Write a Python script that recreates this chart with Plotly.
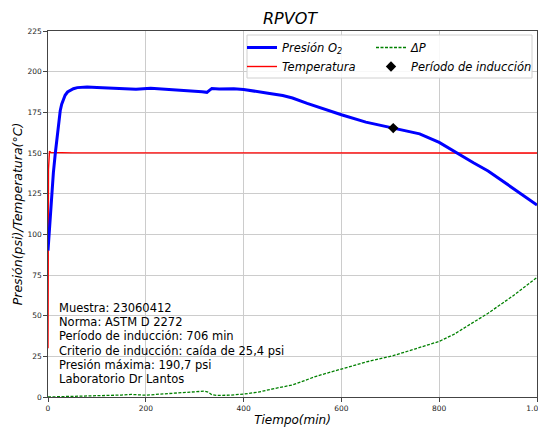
import plotly.graph_objects as go

# ---- data ----
t_pres = [0, 3, 7, 11, 15, 19, 22, 25, 28, 32, 35, 40, 45, 52, 60, 70, 80, 100, 130, 150, 180,
          210, 230, 250, 280, 300, 315, 325, 330, 335, 350, 380, 400, 420, 450, 480, 500, 530,
          560, 600, 650, 690, 706, 730, 760, 800, 836, 870, 900, 950, 1000]
presion = [90, 105, 122, 138, 150, 162, 170, 176, 180, 183.5, 185.5, 187.5, 188.5, 189.5, 190.2,
           190.5, 190.6, 190.3, 190.0, 189.5, 189.2, 189.8, 189.5, 189.0, 188.5, 188.0, 187.6,
           187.3, 188.5, 189.6, 189.4, 189.5, 189.0, 188.3, 186.8, 185.3, 183.8, 180.5, 177.5,
           173.5, 169.0, 166.5, 165.3, 164.0, 161.8, 156.5, 150.0, 144.0, 139.0, 128.5, 118.0]

t_temp = [0, 1, 3, 6, 50, 200, 400, 600, 800, 1000]
temperatura = [30, 140, 151, 150.3, 150.1, 150.1, 150, 150, 150, 150]

t_dp = [0, 50, 100, 150, 170, 200, 230, 260, 300, 320, 328, 335, 345, 370, 400, 430, 460, 500,
        550, 600, 650, 700, 706, 750, 800, 830, 860, 900, 950, 1000]
delta_p = [0, 0.3, 0.5, 1.2, 1.6, 1.1, 1.8, 2.4, 3.0, 3.6, 3.0, 1.4, 1.0, 1.1, 1.8, 3.0, 5.0, 7.4,
           12.9, 17.3, 21.5, 25.0, 25.4, 29.5, 34.2, 38.5, 44.0, 51.5, 62.0, 73.5]

t_ind = [706]
p_ind = [165.3]

x_ticks = [0, 200, 400, 600, 800, 1000]
x_ticklabels = ["0", "200", "400", "600", "800", "1.000"]
y_ticks = [0, 25, 50, 75, 100, 125, 150, 175, 200, 225]

info_lines = ["Muestra: 23060412", "Norma: ASTM D 2272", "Período de inducción: 706 min",
              "Criterio de inducción: caída de 25,4 psi", "Presión máxima: 190,7 psi",
              "Laboratorio Dr Lantos"]

FONT = "DejaVu Sans"
# page body has an 8px default margin: figure sits at (8, 8) in the window
OFF = 8
W, H = 546 - OFF, 427 - OFF
# plot area in window pixels
L, R, T, B = 48, 537, 31, 397
PW, PH = R - L, B - T


def px(xw):
    return (xw - L) / PW


def py(yw):
    return (B - yw) / PH


legfont = dict(size=11.5, style="italic", family=FONT, color="black")

fig = go.Figure()
fig.add_trace(go.Scatter(x=t_temp, y=temperatura, mode="lines", name="Temperatura",
                         line=dict(color="#ff0000", width=1.4), legend="legend", legendrank=2))
fig.add_trace(go.Scatter(x=t_dp, y=delta_p, mode="lines", name="ΔP",
                         line=dict(color="#008000", width=1.3, dash="3px,1.5px"),
                         legend="legend2", legendrank=1))
fig.add_trace(go.Scatter(x=t_pres, y=presion, mode="lines", name="Presión O<sub>2</sub>",
                         line=dict(color="#0000ff", width=3), legend="legend", legendrank=1))
fig.add_trace(go.Scatter(x=t_ind, y=p_ind, mode="markers", name="Período de inducción",
                         marker=dict(color="black", symbol="diamond", size=8),
                         legend="legend2", legendrank=2))

fig.update_layout(
    width=W, height=H,
    margin=dict(l=L - OFF, r=546 - R, t=T - OFF, b=427 - B, autoexpand=False),
    paper_bgcolor="white", plot_bgcolor="white",
    font=dict(family=FONT, color="#222"),
    title=dict(text="RPVOT", x=(290 - OFF) / W, xanchor="center", y=1 - (18 - OFF) / H,
               yanchor="middle",
               font=dict(size=16, style="italic", family=FONT, color="black")),
    legend=dict(x=px(242), xanchor="left", y=py(33), yanchor="top", traceorder="normal",
                bgcolor="rgba(0,0,0,0)", borderwidth=0, font=legfont, itemwidth=30,
                tracegroupgap=0),
    legend2=dict(x=px(371), xanchor="left", y=py(33), yanchor="top", traceorder="normal",
                 bgcolor="rgba(0,0,0,0)", borderwidth=0, font=legfont, itemwidth=30,
                 tracegroupgap=0),
    showlegend=True,
)

fig.add_shape(type="rect", xref="paper", yref="paper", x0=px(247), x1=px(532),
              y0=py(78), y1=py(35), layer="above",
              fillcolor="rgba(255,255,255,0.85)", line=dict(color="#d0d0d0", width=1))

axis_common = dict(showgrid=True, gridcolor="#cccccc", gridwidth=1,
                   showline=True, linecolor="#444", linewidth=1.2, mirror=True,
                   ticks="outside", ticklen=3.5, tickcolor="#444", zeroline=False,
                   automargin=False, ticklabeloverflow="allow",
                   tickfont=dict(size=7.5, family=FONT, color="#222"))
fig.update_xaxes(range=[0, 1000.01], tickvals=x_ticks, ticktext=x_ticklabels,
                 title=dict(text="Tiempo(min)", standoff=5,
                            font=dict(size=12, style="italic", family=FONT, color="black")),
                 **axis_common)
fig.update_yaxes(range=[0, 225.01], tickvals=y_ticks,
                 title=dict(text="Presión(psi)/Temperatura(°C)", standoff=2,
                            font=dict(size=12.5, style="italic", family=FONT, color="black")),
                 **axis_common)

for i, line in enumerate(info_lines):
    fig.add_annotation(text=line, xref="paper", yref="paper",
                       x=px(57), y=py(308 + 14.2 * i), xanchor="left", yanchor="middle",
                       align="left", showarrow=False,
                       font=dict(size=11.5, family=FONT, color="black"))

fig.write_html("out.html")
